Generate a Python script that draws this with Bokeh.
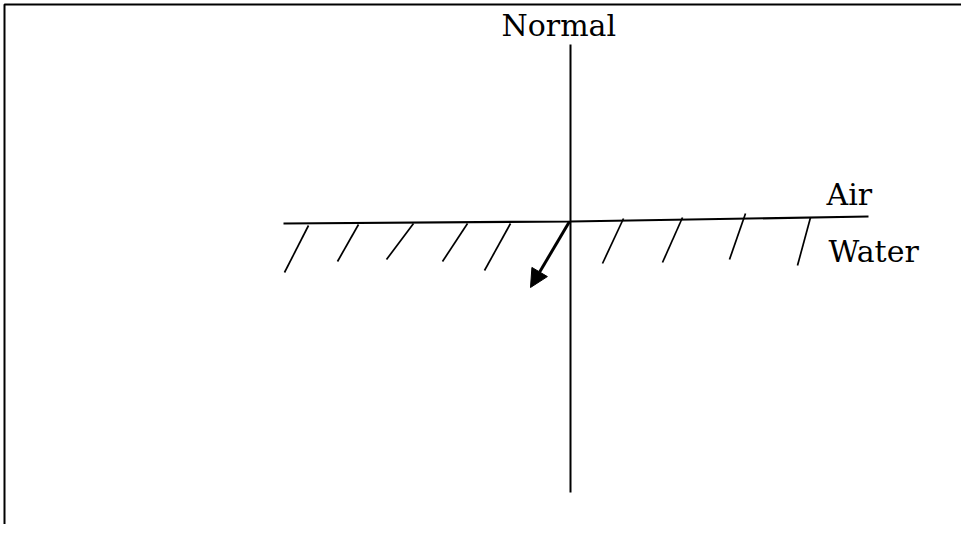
from bokeh.plotting import figure
from bokeh.models import Range1d, Arrow, NormalHead, ColumnDataSource
from bokeh.core.properties import value
from bokeh.embed import file_html
from bokeh.resources import INLINE

# Diagram geometry (in reference image pixel coordinates)
normal_x = [570, 570]
normal_y = [44, 492]

surface_x = [283, 570, 868]
surface_y = [223, 221, 216]

hatch_x0 = [308, 358, 413, 467, 510, 623, 682, 745, 810]
hatch_y0 = [225, 224, 223, 223, 223, 218, 217, 213, 217]
hatch_x1 = [284, 337, 386, 442, 484, 602, 662, 729, 797]
hatch_y1 = [272, 261, 259, 261, 270, 263, 262, 259, 265]

ray_start = (569, 221)
ray_end = (530, 287)

label_text = ["Normal", "Air", "Water"]
label_x = [501, 826, 828]
label_y = [25, 194, 251]

border_x = [977, 4, 4]
border_y = [4, 4, 540]

W, H = 961, 524
p = figure(width=W, height=H, output_backend="svg", toolbar_location=None,
           x_range=Range1d(0, W), y_range=Range1d(H, 0),
           min_border=0, background_fill_color="white", border_fill_color="white")
p.axis.visible = False
p.grid.visible = False
p.outline_line_color = None

# scan border (top + left)
p.line(border_x, border_y, line_color="black", line_width=2)

# normal
p.line(normal_x, normal_y, line_color="black", line_width=2)
# surface
p.line(surface_x, surface_y, line_color="black", line_width=2.2)
# hatches
p.segment(x0=hatch_x0, y0=hatch_y0, x1=hatch_x1, y1=hatch_y1,
          line_color="black", line_width=1.7)

# ray with arrowhead
p.add_layout(Arrow(end=NormalHead(size=18, fill_color="black", line_color="black"),
                   x_start=ray_start[0], y_start=ray_start[1],
                   x_end=ray_end[0], y_end=ray_end[1],
                   line_color="black", line_width=3))

src = ColumnDataSource(dict(x=label_x, y=label_y, t=label_text))
p.text(x="x", y="y", text="t", source=src, text_font=value("DejaVu Serif"),
       text_font_size="30px", text_color="black",
       text_align="left", text_baseline="alphabetic")

open("out.html", "w").write(file_html(p, INLINE))
